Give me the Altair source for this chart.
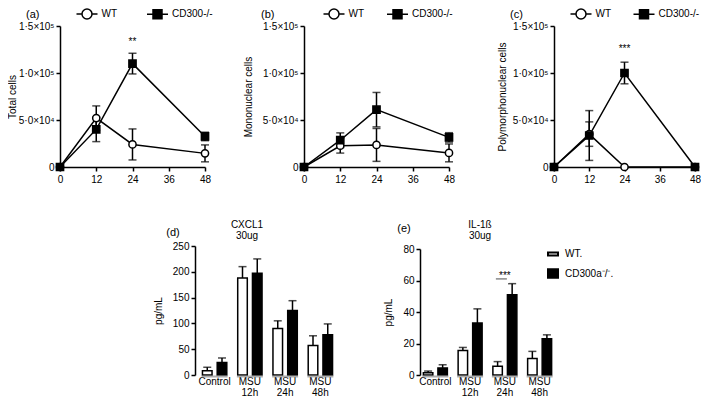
import altair as alt
import pandas as pd

FONT = "Liberation Sans"

# ---------------- top row: cell counts over time ----------------
TIMES = [0, 12, 24, 48]
LINE_SERIES = ["WT", "CD300-/-"]

A_WT = [0, 52000, 24000, 14500]
A_WT_ERR = [0, 13000, 16500, 9000]
A_CD = [0, 40000, 110000, 32500]
A_CD_ERR = [0, 13000, 11000, 4500]

B_WT = [0, 22600, 23500, 15000]
B_WT_ERR = [0, 7800, 17500, 9500]
B_CD = [0, 28500, 61000, 31500]
B_CD_ERR = [0, 7800, 18300, 5000]

C_WT = [0, 35000, 0, 0]
C_WT_ERR = [0, 13000, 0, 0]
C_CD = [0, 33500, 100000, 0]
C_CD_ERR = [0, 26500, 11500, 0]

CELL_TICKS = [0, 50000, 100000, 150000]
CELL_TICK_LABELS = ["0", "5\u00b70\u00d710\u2074", "1\u00b70\u00d710\u2075", "1\u00b75\u00d710\u2075"]
TIME_TICKS = [0, 12, 24, 36, 48]
Y_TITLES = ["Total cells", "Mononuclear cells", "Polymorphonuclear cells"]
SIG_A = ("**", 24, 133000)
SIG_C = ("***", 24, 126000)

# ---------------- bottom row: cytokines ----------------
GROUPS = ["Control", "MSU 12h", "MSU 24h", "MSU 48h"]
BAR_SERIES = ["WT.", "CD300a\u207b/\u207b."]
D_WT = [8, 188, 90, 57]
D_WT_ERR = [7, 22, 15, 19]
D_CD = [24, 197, 125, 78]
D_CD_ERR = [9, 28, 19, 21]
E_WT = [1.5, 15.5, 5.5, 10.5]
E_WT_ERR = [1, 2, 3, 4.5]
E_CD = [4.5, 33, 51, 23]
E_CD_ERR = [2, 9, 7, 2.5]
D_TICKS = [0, 50, 100, 150, 200, 250]
E_TICKS = [0, 20, 40, 60, 80]
SIG_E = ("***", "MSU 24h", 63, 61)
PANEL_LABELS = ["(a)", "(b)", "(c)", "(d)", "(e)"]
CYTO_TITLES = ["CXCL1\n30ug", "IL-1\u00df\n30ug"]

# legend symbol paths
PATH_WT_LINE = "M-2.1,0H-1M1,0H2.1M1,0A1,1,0,1,1,-1,0A1,1,0,1,1,1,0Z"
PATH_CD_LINE = "M-2.1,0H2.1M-0.9,-0.9H0.9V0.9H-0.9Z"
PATH_WT_BOX = "M-1,-0.3H1V0.3H-1Z"
PATH_CD_BOX = "M-1,-0.85H1V0.85H-1Z"

label_expr = "''"
for v, l in zip(CELL_TICKS, CELL_TICK_LABELS):
    label_expr = f"datum.value == {v} ? '{l}' : ({label_expr})"


def line_panel(wt, wt_err, cd, cd_err, ytitle, xrange, title_pad, legend_x, col_pad, sig=None):
    rows = []
    for name, vals, errs in ((LINE_SERIES[0], wt, wt_err), (LINE_SERIES[1], cd, cd_err)):
        for t, v, e in zip(TIMES, vals, errs):
            rows.append(dict(t=t, v=v, lo=v - e, hi=v + e, err=e, series=name, leg=name))
    df = pd.DataFrame(rows)
    xs = alt.Scale(domain=[0, 48], range=xrange, nice=False, zero=False)
    ys = alt.Scale(domain=[0, 150000], range=[141, 0], nice=False, zero=False)
    x = alt.X("t:Q", scale=xs, axis=alt.Axis(values=TIME_TICKS, orient="bottom", offset=-208,
                                              title=None, tickSize=4, labelPadding=3,
                                              domainWidth=1.5, tickWidth=1.5, labelFlush=False))
    y = alt.Y("v:Q", scale=ys, axis=alt.Axis(values=CELL_TICKS, labelExpr=label_expr, orient="left",
                                              offset=-xrange[0], title=ytitle, titlePadding=title_pad,
                                              tickSize=4, labelPadding=2, domainWidth=1.5, tickWidth=1.5))
    base = alt.Chart(df)
    line = base.mark_line(color="black", strokeWidth=1.5).encode(x=x, y=y, detail="series:N")
    eb = base.transform_filter("datum.err > 0")
    err = eb.mark_rule(color="black", strokeWidth=1.5).encode(x="t:Q", y="lo:Q", y2="hi:Q")
    cap_hi = eb.mark_tick(color="black", size=8, thickness=1.5, orient="horizontal").encode(x="t:Q", y="hi:Q")
    cap_lo = eb.mark_tick(color="black", size=8, thickness=1.5, orient="horizontal").encode(x="t:Q", y="lo:Q")
    pts = base.mark_point(opacity=1, stroke="black", strokeWidth=1.5, size=52).encode(
        x="t:Q", y="v:Q",
        shape=alt.Shape("series:N", scale=alt.Scale(domain=LINE_SERIES, range=["circle", "square"]), legend=None),
        fill=alt.Fill("series:N", scale=alt.Scale(domain=LINE_SERIES, range=["white", "black"]), legend=None))
    lg = alt.Legend(orient="none", legendX=legend_x, legendY=-18, direction="horizontal", title=None,
                    labelOffset=8.5, columnPadding=col_pad, symbolStrokeWidth=1.5,
                    labelFontSize=10, labelFont=FONT, padding=0)
    leg = base.transform_filter("false").mark_point(opacity=1, strokeWidth=1.5, size=64).encode(
        shape=alt.Shape("leg:N", scale=alt.Scale(domain=LINE_SERIES, range=[PATH_WT_LINE, PATH_CD_LINE]), legend=lg),
        fill=alt.Fill("leg:N", scale=alt.Scale(domain=LINE_SERIES, range=["white", "black"]), legend=lg),
        stroke=alt.Stroke("leg:N", scale=alt.Scale(domain=LINE_SERIES, range=["black", "black"]), legend=lg))
    layers = [line, err, cap_hi, cap_lo, pts, leg]
    if sig is not None:
        sdf = pd.DataFrame({"txt": [sig[0]], "t": [sig[1]], "v": [sig[2]]})
        layers.append(alt.Chart(sdf).mark_text(fontSize=10, font=FONT, baseline="middle").encode(
            x="t:Q", y="v:Q", text="txt:N"))
    return alt.layer(*layers).resolve_scale(shape="independent", fill="independent", stroke="independent")


def bar_panel(wt, wt_err, cd, cd_err, yticks, yrange, xrange, axis_x, title_pad, legend=False, sig=None):
    rows = []
    for name, vals, errs in ((BAR_SERIES[0], wt, wt_err), (BAR_SERIES[1], cd, cd_err)):
        for g, v, e in zip(GROUPS, vals, errs):
            rows.append(dict(g=g, s=name, v=v, hi=v + e, leg=name))
    df = pd.DataFrame(rows)
    xs = alt.Scale(domain=GROUPS, range=xrange, paddingInner=0, paddingOuter=0)
    x = alt.X("g:N", scale=xs, sort=GROUPS,
              axis=alt.Axis(orient="bottom", domain=False, ticks=False, labelAngle=0,
                            labelExpr="split(datum.value, ' ')", labelPadding=1, labelLineHeight=11,
                            labelBaseline="top", title=None))
    xo = alt.XOffset("s:N", sort=BAR_SERIES,
                     scale=alt.Scale(domain=BAR_SERIES, paddingInner=0.35, paddingOuter=0.37))
    ys = alt.Scale(domain=[0, yticks[-1]], range=yrange, nice=False, zero=True)
    y = alt.Y("v:Q", scale=ys, axis=alt.Axis(values=yticks, orient="left", offset=-axis_x,
                                              title="pg/mL", titlePadding=title_pad, tickSize=4,
                                              labelPadding=2, domainWidth=1.5, tickWidth=1.5))
    xg = alt.X("g:N", sort=GROUPS)
    base = alt.Chart(df)
    bars = base.mark_bar(stroke="black", strokeWidth=1.5).encode(
        x=x, xOffset=xo, y=y,
        fill=alt.Fill("s:N", scale=alt.Scale(domain=BAR_SERIES, range=["white", "black"]), legend=None))
    err = base.mark_rule(color="black", strokeWidth=1.5).encode(x=xg, xOffset="s:N", y="v:Q", y2="hi:Q")
    cap = base.mark_tick(color="black", size=8, thickness=1.5, orient="horizontal").encode(
        x=xg, xOffset="s:N", y="hi:Q")
    udf = pd.DataFrame({"g": GROUPS, "z": [0] * len(GROUPS)})
    under = alt.Chart(udf).mark_tick(orient="horizontal", size=26, thickness=2, color="#8a8a8a",
                                     yOffset=1.5).encode(x=xg, y="z:Q")
    layers = [bars, err, cap, under]
    if sig is not None:
        sdf = pd.DataFrame({"txt": [sig[0]], "g": [sig[1]], "v": [sig[2]], "lv": [sig[3]]})
        layers.append(alt.Chart(sdf).mark_text(fontSize=10, font=FONT, baseline="middle").encode(
            x=xg, y="v:Q", text="txt:N"))
        layers.append(alt.Chart(sdf).mark_tick(orient="horizontal", size=11, thickness=1, color="black",
                                               xOffset=-3.5).encode(x=xg, y="lv:Q"))
    if legend:
        lg = alt.Legend(orient="none", legendX=487, legendY=222, direction="vertical", title=None,
                        labelOffset=6, rowPadding=4.5, symbolStrokeWidth=2,
                        labelFontSize=10, labelFont=FONT, padding=0)
        layers.append(base.transform_filter("false").mark_point(opacity=1, strokeWidth=2, size=169).encode(
            shape=alt.Shape("leg:N", scale=alt.Scale(domain=BAR_SERIES, range=[PATH_WT_BOX, PATH_CD_BOX]), legend=lg),
            fill=alt.Fill("leg:N", scale=alt.Scale(domain=BAR_SERIES, range=["white", "black"]), legend=lg),
            stroke=alt.Stroke("leg:N", scale=alt.Scale(domain=BAR_SERIES, range=["black", "black"]), legend=lg)))
    return alt.layer(*layers).resolve_scale(shape="independent", fill="independent", stroke="independent")


pa = line_panel(A_WT, A_WT_ERR, A_CD, A_CD_ERR, Y_TITLES[0], [0, 145], 1, 21, 25.5, SIG_A)
pb = line_panel(B_WT, B_WT_ERR, B_CD, B_CD_ERR, Y_TITLES[1], [244, 389], 9, 268, 18.5)
pc = line_panel(C_WT, C_WT_ERR, C_CD, C_CD_ERR, Y_TITLES[2], [494, 635], 5, 515, 18, SIG_C)
pd_ = bar_panel(D_WT, D_WT_ERR, D_CD, D_CD_ERR, D_TICKS, [349, 220], [137, 278], 135, 9)
pe = bar_panel(E_WT, E_WT_ERR, E_CD, E_CD_ERR, E_TICKS, [349, 223], [358, 497], 360, 9,
               legend=True, sig=SIG_E)

one = pd.DataFrame({"k": [0]})


def label(text, x, y, size=11, align="left"):
    return alt.Chart(one).mark_text(text=text, fontSize=size, font=FONT, align=align, baseline="middle",
                                    lineBreak="\n", lineHeight=11).encode(x=alt.value(x), y=alt.value(y))


texts = [
    label(PANEL_LABELS[0], -34, -11),
    label(PANEL_LABELS[1], 201, -11),
    label(PANEL_LABELS[2], 450, -11),
    label(PANEL_LABELS[3], 113, 207, align="center"),
    label(PANEL_LABELS[4], 344, 203, align="center"),
    label(CYTO_TITLES[0], 187, 198.5, size=10, align="center"),
    label(CYTO_TITLES[1], 420, 198.5, size=10, align="center"),
]

chart = alt.layer(pa, pb, pc, pd_, pe, *texts).resolve_scale(
    x="independent", y="independent", xOffset="independent",
    shape="independent", fill="independent", stroke="independent"
).resolve_axis(x="independent", y="independent").resolve_legend(
    shape="independent", fill="independent", stroke="independent"
).properties(
    width=638, height=349,
    autosize=alt.AutoSizeParams(type="none"),
    padding={"left": 52, "top": 18, "right": 3, "bottom": 22},
).configure_view(stroke=None).configure_axis(
    labelFont=FONT, titleFont=FONT, labelFontSize=10, titleFontSize=10, titleFontWeight="normal",
    labelColor="black", titleColor="black", domainColor="black", tickColor="black", grid=False
).configure_legend(labelColor="black")

chart.save("out.html", embed_options={"renderer": "svg", "actions": False})
